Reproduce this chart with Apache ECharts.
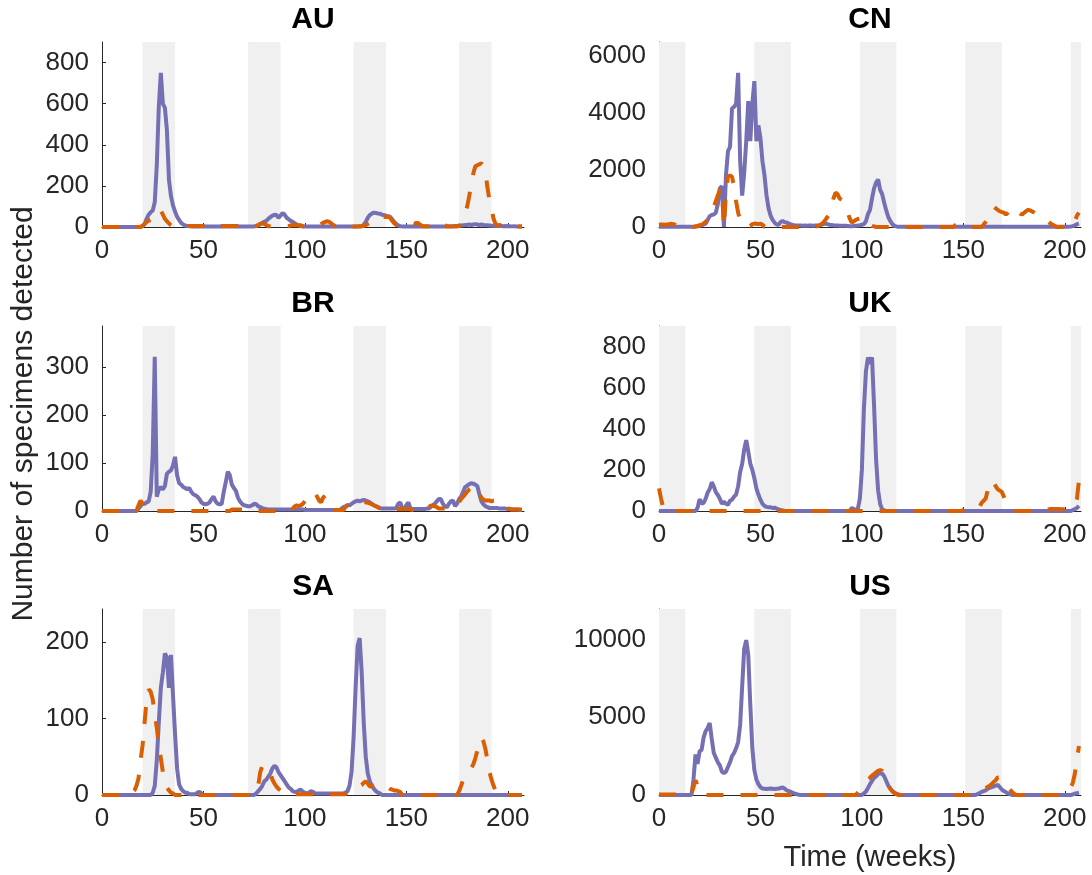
<!DOCTYPE html>
<html><head><meta charset="utf-8">
<script src="https://cdn.jsdelivr.net/npm/echarts@6.0.0/dist/echarts.min.js"></script>
<style>html,body{margin:0;padding:0;background:#fff}#c{width:1092px;height:875px}</style>
</head><body><div id="c"></div>
<script>
// ---------------- data ----------------
const countries = ['AU', 'CN', 'BR', 'UK', 'SA', 'US'];
const hemisphere = ['S', 'N', 'S', 'N', 'S', 'N'];
const yMax = [900, 6466, 386, 901, 243, 11949];
const yStep = [200, 2000, 100, 200, 100, 5000];
const xTicks = [0, 50, 100, 150, 200];
const xMax = 208;
const southernSeasons = [[20, 36], [72, 88], [124, 140], [176, 192]];
const northernSeasons = [[0, 13], [47, 65], [99, 117], [151, 169], [203, 208]];

const auSolid = [
0,0,0,0,0,0,0,0,0,0, 0,0,0,0,0,0,0,0,0,2,
5,15,40,60,72,80,120,300,585,750, 600,580,470,230,150,105,75,50,35,20,
12,7,5,4,3,3,2,3,2,2, 3,2,2,3,2,2,3,2,2,2,
3,2,2,2,3,2,2,3,2,2, 2,3,2,2,3,3,5,8,15,20,
25,30,40,48,55,60,58,45,55,68, 60,45,38,30,25,18,12,8,5,4,
3,3,2,3,2,2,3,3,2,2, 3,2,2,3,2,3,2,2,3,2,
2,3,2,2,3,3,3,4,5,10, 25,45,58,65,70,68,66,65,60,58,
55,52,50,38,25,15,8,4,3,3, 2,3,2,2,3,2,2,3,2,2,
3,2,2,3,3,2,3,2,3,3, 3,4,3,4,5,5,6,7,8,10,
10,12,10,12,14,12,10,12,10,8, 8,7,6,6,5,5,6,5,4,5,
4,4,3,4,3,3,3,2];
const auDashed = [
0,0,0,0,0,0,0,0,0,0, 0,0,0,0,0,0,0,0,0,0,
5,15,25,30,35,40,55,75,85,80, 60,40,28,18,8,2,0,0,0,0,
0,0,5,5,5,5,5,5,5,5, 5,2,2,2,2,2,2,2,2,5,
5,5,5,5,5,5,5,5,2,2, 2,2,2,2,2,2,5,10,15,18,
15,10,4,4,4,4,4,4,4,4, 4,4,4,8,8,8,8,8,8,3,
3,3,3,3,3,3,3,8,15,20, 25,28,25,18,10,3,3,3,3,3,
3,3,3,3,3,3,3,3,3,5, 10,15,20,25,30,38,45,50,52,50,
48,50,45,30,18,10,8,8,8,8, 12,18,20,18,15,20,18,10,4,4,
4,4,4,4,10,15,18,20,15,10, 3,3,3,3,3,3,5,15,40,70,
100,150,210,260,295,300,305,310,295,270, 190,130,90,40,15,10,8,12,15,10,
5,3,2,2,2,2,2,2];

const cnSolid = [
10,10,10,10,10,10,10,10,10,10, 10,10,10,10,10,10,10,10,15,20,
40,60,90,120,250,380,420,440,500,800, 1350,1430,0,1800,2650,2800,4150,4200,4300,5390,
2300,1100,1900,3000,4400,3000,4300,5100,3000,3550, 3100,2300,1800,1100,650,400,250,150,90,80,
180,210,170,150,120,90,70,60,55,50, 50,45,50,45,50,50,45,50,55,60,
80,100,120,100,80,70,60,55,50,45, 45,40,40,35,30,30,35,40,50,60,
80,100,200,450,600,1000,1350,1550,1660,1300, 1150,850,580,350,210,100,40,20,10,10,
10,10,10,10,10,10,10,10,10,10, 10,10,10,10,10,10,10,10,10,10,
10,10,10,10,10,10,10,10,10,10, 10,10,10,10,10,10,10,10,10,10,
10,10,10,10,10,10,10,10,10,10, 10,10,10,10,10,10,10,10,10,10,
10,10,10,10,10,10,10,10,10,10, 10,10,10,10,10,10,10,10,10,10,
10,10,10,15,30,60,100,120];
const cnDashed = [
80,90,90,80,90,100,110,100,80,40, 0,0,0,0,0,0,0,0,20,40,
60,80,120,180,250,300,500,700,900,1100, 1300,1350,0,1200,1750,1800,1750,1400,900,500,
250,100,40,10,0,40,100,120,110,100, 120,80,10,0,0,0,0,0,0,0,
0,0,0,0,0,0,0,0,0,0, 0,0,0,0,0,0,0,10,30,60,
100,150,250,350,450,700,1000,1200,1150,1000, 950,850,730,500,300,150,200,250,280,300,
300,320,330,200,100,40,20,0,0,0, 0,0,0,0,0,0,0,0,0,0,
0,0,0,0,0,0,0,0,0,0, 0,0,0,0,0,0,0,0,0,0,
0,0,0,0,0,0,60,100,110,100, 110,90,40,0,0,0,0,0,0,0,
80,180,300,450,600,700,650,600,550,520, 500,430,500,600,680,650,650,550,470,440,
500,560,600,580,540,500,450,400,350,300, 260,220,180,120,80,40,0,0,0,0,
0,0,0,0,0,200,400,500];

const brSolid = [
0,0,0,0,0,0,0,0,0,0, 0,0,0,0,0,0,0,0,5,10,
15,15,18,20,40,120,322,30,45,50, 45,52,78,82,85,95,113,75,58,55,
50,48,45,48,40,35,33,30,25,18, 15,14,15,18,25,30,20,15,14,15,
40,60,82,75,55,48,42,28,20,15, 12,11,10,10,12,15,14,10,8,6,
5,4,3,3,3,3,3,3,3,3, 3,3,3,3,3,3,3,3,3,3,
2,2,2,2,2,2,2,2,2,2, 2,2,2,2,2,2,2,2,5,8,
10,12,12,15,18,20,22,20,22,23, 22,20,18,15,12,10,8,6,5,5,
5,5,5,5,5,6,15,18,5,4, 12,18,6,4,4,4,4,4,4,4,
5,5,8,12,15,20,25,25,15,10, 8,15,20,22,10,15,25,30,40,50,
53,56,58,57,55,52,35,20,14,10, 8,6,6,6,6,6,5,5,5,5,
4,4,3,3,3,3,2,2];
const brDashed = [
0,0,0,0,0,0,0,0,0,0, 0,0,0,0,0,0,0,0,12,22,
15,8,3,0,0,0,0,0,0,0, 0,0,0,0,0,0,0,0,0,0,
0,0,0,0,0,0,0,0,0,0, 0,0,0,0,0,0,0,0,0,0,
0,0,0,0,3,3,3,3,3,3, 3,0,0,0,0,0,0,0,0,0,
0,0,0,0,0,0,0,0,0,0, 0,0,0,0,5,10,12,10,12,15,
20,25,30,35,40,38,30,22,18,28, 32,25,18,8,2,2,2,2,2,2,
8,12,13,12,13,14,12,14,16,18, 18,17,16,14,12,10,8,5,3,3,
3,3,3,3,4,4,4,4,4,4, 4,4,4,2,2,2,2,2,2,2,
2,8,11,11,10,8,5,5,5,5, 5,5,5,8,10,15,18,25,30,35,
40,45,48,52,53,48,35,28,24,22, 22,22,20,22,22,20,22,20,15,10,
6,4,3,3,3,3,3,3];

const ukSolid = [
0,0,0,0,0,0,0,0,0,0, 0,0,0,0,0,0,0,0,0,15,
58,35,40,60,90,107,140,120,92,78, 60,35,45,35,30,50,55,70,80,120,
190,230,300,345,290,230,200,160,110,80, 55,35,25,20,18,18,15,16,12,8,
5,3,0,0,0,0,0,0,0,0, 0,0,0,0,0,0,0,0,0,0,
0,0,0,0,0,0,0,0,0,0, 0,0,0,0,0,15,10,5,10,60,
200,500,680,748,716,748,513,250,100,34, 8,3,0,0,0,0,0,0,0,0,
0,0,0,0,0,0,0,0,0,0, 0,0,0,0,0,0,0,0,0,0,
0,0,0,0,0,0,0,0,0,0, 0,0,0,0,0,0,0,0,0,0,
0,0,0,0,0,0,0,0,0,0, 0,0,0,0,0,0,0,0,0,0,
0,0,0,0,0,0,0,0,0,0, 0,0,0,0,0,0,0,0,0,0,
0,0,0,0,5,10,15,25];
const ukDashed = [
110,60,20,0,0,0,0,0,0,0, 0,0,0,0,0,0,0,0,0,0,
0,0,0,0,0,0,0,0,0,0, 0,0,0,0,0,0,0,0,0,0,
0,0,0,0,0,0,0,0,0,0, 0,0,0,0,0,0,0,0,0,0,
0,0,0,0,0,0,0,0,0,0, 0,0,0,0,0,0,0,0,0,0,
0,0,0,0,0,0,0,0,0,0, 0,0,0,0,0,0,0,0,0,0,
0,0,0,0,0,0,0,0,0,0, 0,0,0,0,0,0,0,0,0,0,
0,0,0,0,0,0,0,0,0,0, 0,0,0,0,0,0,0,0,0,0,
0,0,0,0,0,0,0,0,0,0, 5,10,15,18,18,18,18,20,20,40,
50,60,100,130,150,140,120,105,100,92, 70,50,40,15,5,0,0,0,0,0,
0,0,0,0,0,0,0,0,0,0, 5,5,8,10,10,10,10,10,8,8,
8,10,12,15,20,30,60,150];

const saSolid = [
0,0,0,0,0,0,0,0,0,0, 0,0,0,0,0,0,0,0,0,0,
0,0,0,0,0,3,12,45,95,140, 160,185,180,140,183,130,80,35,14,8,
5,3,3,1,1,1,1,3,4,2, 0,0,0,0,0,0,0,0,0,0,
0,0,0,0,0,0,0,0,0,0, 0,0,0,0,0,0,2,5,8,12,
18,20,24,28,35,38,36,30,26,22, 18,14,10,8,5,4,4,6,7,4,
3,2,3,5,4,2,2,2,2,2, 2,2,2,2,2,2,2,2,2,2,
3,5,12,30,75,140,195,205,160,95, 50,28,18,12,8,5,3,2,0,0,
0,0,0,0,0,0,0,0,0,0, 0,0,0,0,0,0,0,0,0,0,
0,0,0,0,0,0,0,0,0,0, 0,0,0,0,0,0,0,0,0,0,
0,0,0,0,0,0,0,0,0,0, 0,0,0,0,0,0,0,0,0,0,
0,0,0,0,0,0,0,0];
const saDashed = [
0,0,0,0,0,0,0,0,0,0, 0,0,0,0,0,3,6,12,22,45,
65,95,125,138,135,125,105,88,65,48, 30,20,10,6,3,2,0,0,0,0,
0,0,0,0,0,0,0,0,0,0, 0,0,0,0,0,0,0,0,0,0,
0,0,0,0,0,0,0,0,0,0, 0,0,0,0,0,0,5,12,30,38,
39,37,35,30,20,15,11,8,6,4, 3,1,1,1,1,1,1,1,1,1,
1,1,1,1,1,1,1,1,1,1, 1,1,1,1,1,1,1,1,1,1,
1,3,4,5,6,8,10,12,13,16, 18,15,11,12,13,14,14,15,14,12,
10,10,8,7,6,6,5,4,0,0, 0,0,0,0,0,0,0,0,0,0,
0,0,0,0,0,0,0,0,0,0, 0,0,0,0,0,0,5,12,20,24,
27,30,35,40,48,58,70,75,70,60, 45,30,20,12,5,0,0,0,0,0,
0,0,0,0,0,0,0,0];

const usSolid = [
0,0,0,0,0,0,0,0,0,0, 0,0,0,0,0,0,0,1000,2600,2000,
2800,2900,3700,4100,4300,4630,3600,2700,2400,2100, 1900,1500,1400,1500,1800,2100,2500,2700,3000,3400,
4500,7000,9400,9950,9000,5800,3000,1600,1000,700, 500,420,400,380,400,420,400,380,400,420,
450,480,400,300,250,200,130,90,50,20, 0,0,0,0,0,0,0,0,0,0,
0,0,0,0,0,0,0,0,0,0, 0,0,0,0,0,0,0,0,0,0,
0,100,220,450,700,900,1100,1200,1350,1400, 1380,1200,900,600,400,250,150,80,40,0,
0,0,0,0,0,0,0,0,0,0, 0,0,0,0,0,0,0,0,0,0,
0,0,0,0,0,0,0,0,0,0, 0,0,0,0,0,0,0,60,120,200,
250,300,400,450,500,550,600,650,500,350, 250,180,100,50,0,0,0,0,0,0,
0,0,0,0,0,0,0,0,0,0, 0,0,0,0,0,0,0,0,0,0,
0,0,0,0,40,80,120,150];
const usDashed = [
40,40,40,40,40,40,40,40,40,40, 40,40,40,40,40,40,80,500,950,600,
100,0,0,0,0,0,0,0,0,0, 0,0,0,0,0,0,0,0,0,0,
0,0,0,0,0,0,0,0,0,0, 0,0,0,0,0,0,0,0,0,0,
0,0,0,0,0,0,0,0,0,0, 0,0,0,0,0,0,0,0,0,0,
0,0,0,0,0,0,0,0,0,0, 0,0,0,0,0,0,0,0,150,300,
450,640,800,1000,1100,1250,1350,1450,1550,1600, 1550,1300,1000,650,400,250,120,60,0,0,
0,0,0,0,0,0,0,0,0,0, 0,0,0,0,0,0,0,0,0,0,
0,0,0,0,0,0,0,0,0,0, 0,0,0,0,0,0,60,150,250,320,
400,450,520,600,700,850,950,1150,1050,900, 750,600,500,350,200,80,0,0,0,0,
0,0,0,0,0,0,0,0,0,0, 0,0,0,0,0,0,0,0,0,0,
50,150,300,500,800,1400,2300,3150];

const solidSeries = [auSolid, cnSolid, brSolid, ukSolid, saSolid, usSolid];
const dashedSeries = [auDashed, cnDashed, brDashed, ukDashed, saDashed, usDashed];

// ---------------- layout / style ----------------
const PURPLE = '#7570b3', ORANGE = '#d95f02', BAND = '#f0f0f0', INK = '#262626';
const FONT = '"Liberation Sans", Arial, Helvetica, sans-serif';
const colLeft = [102, 659], colWidth = [422, 422];
const rowTop = [42, 326, 609], rowHeight = [185, 185, 186];

const grids = [], xAxes = [], yAxes = [], series = [], graphics = [];
countries.forEach((name, i) => {
  const col = i % 2, row = Math.floor(i / 2);
  grids.push({left: colLeft[col], top: rowTop[row], width: colWidth[col], height: rowHeight[row], containLabel: false});
  xAxes.push({
    type: 'value', gridIndex: i, min: 0, max: xMax, interval: 50,
    axisLine: {show: true, onZero: false, lineStyle: {color: INK, width: 1}},
    axisTick: {show: true, inside: true, length: 4, lineStyle: {color: INK}, customValues: xTicks},
    axisLabel: {color: INK, fontSize: 26, fontFamily: FONT, margin: 11, customValues: xTicks, formatter: v => String(v)},
    splitLine: {show: false}
  });
  const yt = [];
  for (let v = 0; v <= yMax[i]; v += yStep[i]) yt.push(v);
  yAxes.push({
    type: 'value', gridIndex: i, min: 0, max: yMax[i], interval: yStep[i],
    axisLine: {show: true, lineStyle: {color: INK, width: 1}},
    axisTick: {show: true, inside: true, length: 4, lineStyle: {color: INK}, customValues: yt},
    axisLabel: {color: INK, fontSize: 26, fontFamily: FONT, margin: 13, customValues: yt, formatter: v => String(v)},
    splitLine: {show: false}
  });
  const seasons = hemisphere[i] === 'S' ? southernSeasons : northernSeasons;
  series.push({
    type: 'line', xAxisIndex: i, yAxisIndex: i, data: [], z: 1, silent: true,
    markArea: {silent: true, itemStyle: {color: BAND}, data: seasons.map(s => [{xAxis: s[0]}, {xAxis: s[1]}])}
  });
  series.push({
    type: 'line', xAxisIndex: i, yAxisIndex: i, z: 3, showSymbol: false, symbol: 'none',
    lineStyle: {color: PURPLE, width: 4}, itemStyle: {color: PURPLE},
    data: solidSeries[i].map((v, k) => [k, v])
  });
  series.push({
    type: 'line', xAxisIndex: i, yAxisIndex: i, z: 4, showSymbol: false, symbol: 'none',
    lineStyle: {color: ORANGE, width: 4, type: [17, 17]}, itemStyle: {color: ORANGE},
    data: dashedSeries[i].map((v, k) => [k, v])
  });
  graphics.push({
    type: 'text', x: colLeft[col] + colWidth[col] / 2, y: rowTop[row] - 22,
    style: {text: name, fill: '#000', fontSize: 30, fontWeight: 'bold', fontFamily: FONT, align: 'center', verticalAlign: 'middle'}
  });
});
graphics.push({
  type: 'text', x: 24, y: 414, rotation: Math.PI / 2,
  style: {text: 'Number of specimens detected', fill: INK, fontSize: 30, fontFamily: FONT, align: 'center', verticalAlign: 'middle'}
});
graphics.push({
  type: 'text', x: colLeft[1] + colWidth[1] / 2, y: 858,
  style: {text: 'Time (weeks)', fill: INK, fontSize: 29, fontFamily: FONT, align: 'center', verticalAlign: 'middle'}
});

const chart = echarts.init(document.getElementById('c'), null, {renderer: 'canvas'});
chart.setOption({
  animation: false,
  backgroundColor: '#fff',
  grid: grids, xAxis: xAxes, yAxis: yAxes, series: series, graphic: graphics
});
</script>
</body></html>
